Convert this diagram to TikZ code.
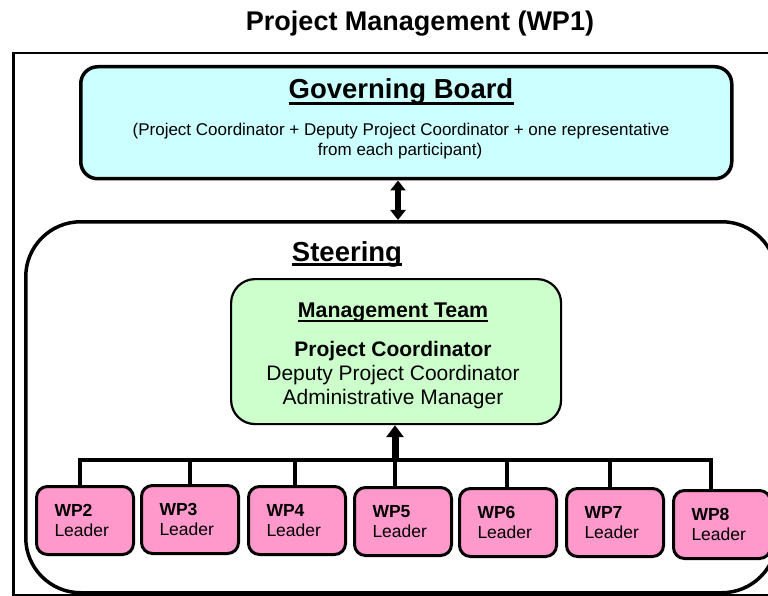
\documentclass[tikz,border=0pt]{standalone}
\usepackage{fontspec}
\setmainfont{Liberation Sans}
\usetikzlibrary{arrows.meta}
\definecolor{gbfill}{HTML}{CCFFFF}
\definecolor{mtfill}{HTML}{CCFFCC}
\definecolor{wpfill}{HTML}{FF99CC}
\tikzset{
  box/.style={draw=black, inner sep=0pt, anchor=north west},
  framebox/.style={box, line width=2.5pt},
  gbbox/.style={box, fill=gbfill, line width=3.5pt, rounded corners=17pt},
  steerbox/.style={box, line width=3.5pt, rounded corners=55pt},
  mtbox/.style={box, fill=mtfill, line width=2.2pt, rounded corners=24pt},
  wpbox/.style={box, fill=wpfill, line width=3pt, rounded corners=11pt,
    minimum width=97pt, minimum height=68pt, text width=61pt, inner xsep=18pt,
    align=left, font=\fontsize{17.5}{20}\selectfont},
  txt/.style={inner sep=0pt, anchor=base},
  uline/.style={line width=#1},
  bus/.style={line width=4.5pt, line join=miter},
  uparrow/.style={line width=7pt, -{Triangle[width=17pt,length=12pt]}},
  dblarrow/.style={line width=6pt, {Triangle[width=15pt,length=10pt]}-{Triangle[width=15pt,length=10pt]}},
}
\begin{document}
\begin{tikzpicture}[x=1pt,y=-1pt]
\clip (0,0) rectangle (768,596);
\fill[white] (0,0) rectangle (768,596);

% title
\node[txt, font=\fontsize{27}{32}\selectfont\bfseries] (title) at (420,31) {Project Management (WP1)};

% outer frame
\node[framebox, minimum width=768pt, minimum height=542pt] (frame) at (12,52) {};

% governing board
\node[gbbox, minimum width=651pt, minimum height=112pt] (gb) at (79,65) {};
\node[txt, font=\fontsize{27.5}{32}\selectfont\bfseries] (gbt) at (401,99) {Governing Board};
\draw[uline=2.5pt] ([yshift=-4.3pt]gbt.base west) -- ([yshift=-4.3pt]gbt.base east);
\node[txt, font=\fontsize{17}{20}\selectfont] (gbs1) at (401,136) {(Project Coordinator + Deputy Project Coordinator + one representative};
\node[txt, font=\fontsize{17}{20}\selectfont] (gbs2) at (400,156) {from each participant)};

% steering
\node[steerbox, minimum width=751pt, minimum height=371pt] (steer) at (24,220) {};
\node[txt, font=\fontsize{27.5}{32}\selectfont\bfseries] (steert) at (347,261) {Steering};
\draw[uline=2.5pt] ([yshift=-3.5pt]steert.base west) -- ([yshift=-3.5pt]steert.base east);

% double arrow
\coordinate (da) at (398,0);
\draw[dblarrow] (gb.south -| da) -- (steer.north -| da);

% management team
\node[mtbox, minimum width=330pt, minimum height=145pt] (mt) at (230,278) {};
\node[txt, font=\fontsize{21.3}{24}\selectfont\bfseries] (mtt) at (393,317) {Management Team};
\draw[uline=2pt] ([yshift=-4.4pt]mtt.base west) -- ([yshift=-4.4pt]mtt.base east);
\node[txt, font=\fontsize{21}{24}\selectfont\bfseries] (pc) at (393,356) {Project Coordinator};
\node[txt, font=\fontsize{21}{24}\selectfont] (dpc) at (393,380) {Deputy Project Coordinator};
\node[txt, font=\fontsize{21}{24}\selectfont] (am) at (393,404) {Administrative Manager};

% WP leaders
\node[wpbox] (wp2) at (35,485) {\textbf{WP2}\\Leader};
\node[wpbox] (wp3) at (140,484) {\textbf{WP3}\\Leader};
\node[wpbox] (wp4) at (247,485) {\textbf{WP4}\\Leader};
\node[wpbox] (wp5) at (353,486) {\textbf{WP5}\\Leader};
\node[wpbox] (wp6) at (458,487) {\textbf{WP6}\\Leader};
\node[wpbox] (wp7) at (565,487) {\textbf{WP7}\\Leader};
\node[wpbox] (wp8) at (672,489) {\textbf{WP8}\\Leader};

% bus
\coordinate (d2) at (80,460);
\coordinate (d3) at (190,460);
\coordinate (d4) at (295,460);
\coordinate (d5) at (395,460);
\coordinate (d6) at (507,460);
\coordinate (d7) at (610,460);
\coordinate (d8) at (711,460);
\draw[bus] (wp2.north -| d2) -- (d2) -- (d8) -- (wp8.north -| d8);
\foreach \i in {3,4,5,6,7} {
  \draw[bus] (wp\i.north -| d\i) -- (d\i);
}
\draw[uparrow] (d5) -- (mt.south -| d5);
\end{tikzpicture}
\end{document}
